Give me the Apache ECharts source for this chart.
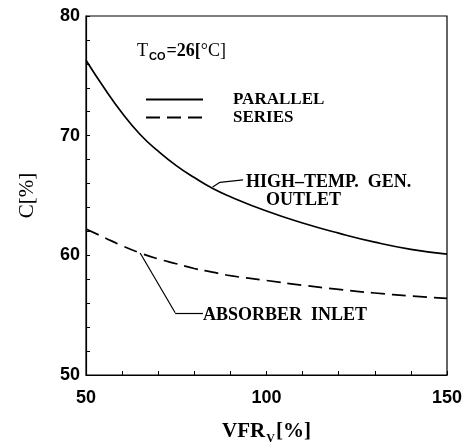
<!DOCTYPE html>
<html>
<head>
<meta charset="utf-8">
<script src="https://cdn.jsdelivr.net/npm/echarts@6/dist/echarts.min.js"></script>
<style>
  html, body { margin: 0; padding: 0; background: #fff; }
  #main { width: 474px; height: 442px; }
</style>
</head>
<body>
<div id="main"></div>
<script>
// values
const vfr = [50, 55, 60, 65, 70, 75, 80, 85, 90, 100, 110, 120, 130, 140, 150]
const parallel = [76.3, 74.0, 71.9, 70.1, 68.7, 67.5, 66.5, 65.6, 64.9, 63.7, 62.7, 61.85, 61.1, 60.5, 60.1]
const series = [62.2, 61.5, 60.8, 60.2, 59.7, 59.3, 58.9, 58.6, 58.3, 57.9, 57.5, 57.15, 56.85, 56.6, 56.4]
const xLabels = [50, 100, 150]
const yLabels = [50, 60, 70, 80]

const serif = '"Liberation Serif", "DejaVu Serif", serif'
const sans = '"Liberation Sans", Arial, sans-serif'

const pairs = (ys) => vfr.map((x, i) => [x, ys[i]])

const chart = echarts.init(document.getElementById('main'))

const option = {
    animation: false,
    backgroundColor: '#fff',
    grid: {
        left: 86, right: 27, top: 16, bottom: 67,
        outerBoundsMode: 'none',
        show: true,
        borderColor: '#000',
        borderWidth: 1.2
    },
    legend: {
        orient: 'vertical',
        left: 140,
        top: 86,
        itemWidth: 57,
        itemHeight: 12,
        itemGap: 1,
        selectedMode: false,
        itemStyle: { opacity: 0 },
        textStyle: {
            fontFamily: serif,
            fontWeight: 'bold',
            fontSize: 17,
            lineHeight: 17,
            color: '#000',
            padding: [0, 0, 0, 25]
        },
        data: ['PARALLEL', 'SERIES']
    },
    xAxis: {
        type: 'value',
        min: 50, max: 150, interval: 10,
        name: 'VFR{sub|V}[%]',
        nameLocation: 'middle',
        nameGap: 44,
        nameTextStyle: {
            fontFamily: serif, fontWeight: 'bold', fontSize: 21, color: '#000',
            rich: {
                sub: { fontFamily: serif, fontWeight: 'bold', fontSize: 12, color: '#000', padding: [14, 1, 0, 1] }
            }
        },
        axisLine: { lineStyle: { color: '#000', width: 1.2 } },
        axisTick: { inside: true, length: 4, lineStyle: { color: '#000' } },
        splitLine: { show: false },
        axisLabel: {
            margin: 14,
            fontFamily: sans, fontWeight: 'bold', fontSize: 18, color: '#000',
            formatter: (v) => xLabels.includes(v) ? String(v) : ''
        }
    },
    yAxis: {
        type: 'value',
        min: 50, max: 80, interval: 2,
        name: 'C[%]',
        nameLocation: 'middle',
        nameGap: 48,
        nameRotate: 90,
        nameTextStyle: { fontFamily: serif, fontSize: 21, color: '#000' },
        axisLine: { show: true, lineStyle: { color: '#000', width: 1.2 } },
        axisTick: { show: true, inside: true, length: 4, lineStyle: { color: '#000' } },
        splitLine: { show: false },
        axisLabel: {
            margin: 6,
            fontFamily: sans, fontWeight: 'bold', fontSize: 18, color: '#000',
            formatter: (v) => yLabels.includes(v) ? String(v) : ''
        }
    },
    series: [
        {
            name: 'PARALLEL',
            type: 'line',
            data: pairs(parallel),
            smooth: true,
            symbol: 'none',
            lineStyle: { color: '#000', width: 1.7 },
            itemStyle: { color: '#000' },
            markLine: {
                silent: true,
                symbol: 'none',
                label: { show: false },
                lineStyle: { color: '#000', type: 'solid', width: 1.2 },
                data: [
                    [{ coord: [85.1, 65.7] }, { coord: [87.1, 66.1] }],
                    [{ coord: [87.1, 66.1] }, { coord: [93.5, 66.3] }]
                ]
            }
        },
        {
            name: 'SERIES',
            type: 'line',
            data: pairs(series),
            smooth: true,
            symbol: 'none',
            lineStyle: { color: '#000', width: 1.7, type: [14, 7] },
            itemStyle: { color: '#000' },
            markLine: {
                silent: true,
                symbol: 'none',
                label: { show: false },
                lineStyle: { color: '#000', type: 'solid', width: 1.2 },
                data: [
                    [{ coord: [65, 60.2] }, { coord: [74.7, 55.2] }],
                    [{ coord: [74.7, 55.2] }, { coord: [82.4, 55.2] }]
                ]
            }
        }
    ],
    graphic: [
        {
            type: 'text', left: 137, top: 42,
            style: {
                text: '{a|T}{s|CO}{b|=26[}{a|°C]}',
                rich: {
                    a: { fontFamily: serif, fontSize: 18, fill: '#000' },
                    s: { fontFamily: sans, fontWeight: 'bold', fontSize: 11, fill: '#000', padding: [11, 1, 0, 1] },
                    b: { fontFamily: serif, fontWeight: 'bold', fontSize: 18, fill: '#000' }
                }
            }
        },
        {
            type: 'text', left: 246, top: 173,
            style: { text: 'HIGH–TEMP.  GEN.', fontFamily: serif, fontWeight: 'bold', fontSize: 18, fill: '#000' }
        },
        {
            type: 'text', left: 266, top: 191,
            style: { text: 'OUTLET', fontFamily: serif, fontWeight: 'bold', fontSize: 18, fill: '#000' }
        },
        {
            type: 'text', left: 203, top: 306,
            style: { text: 'ABSORBER  INLET', fontFamily: serif, fontWeight: 'bold', fontSize: 18, fill: '#000' }
        }
    ]
}

chart.setOption(option)
</script>
</body>
</html>
